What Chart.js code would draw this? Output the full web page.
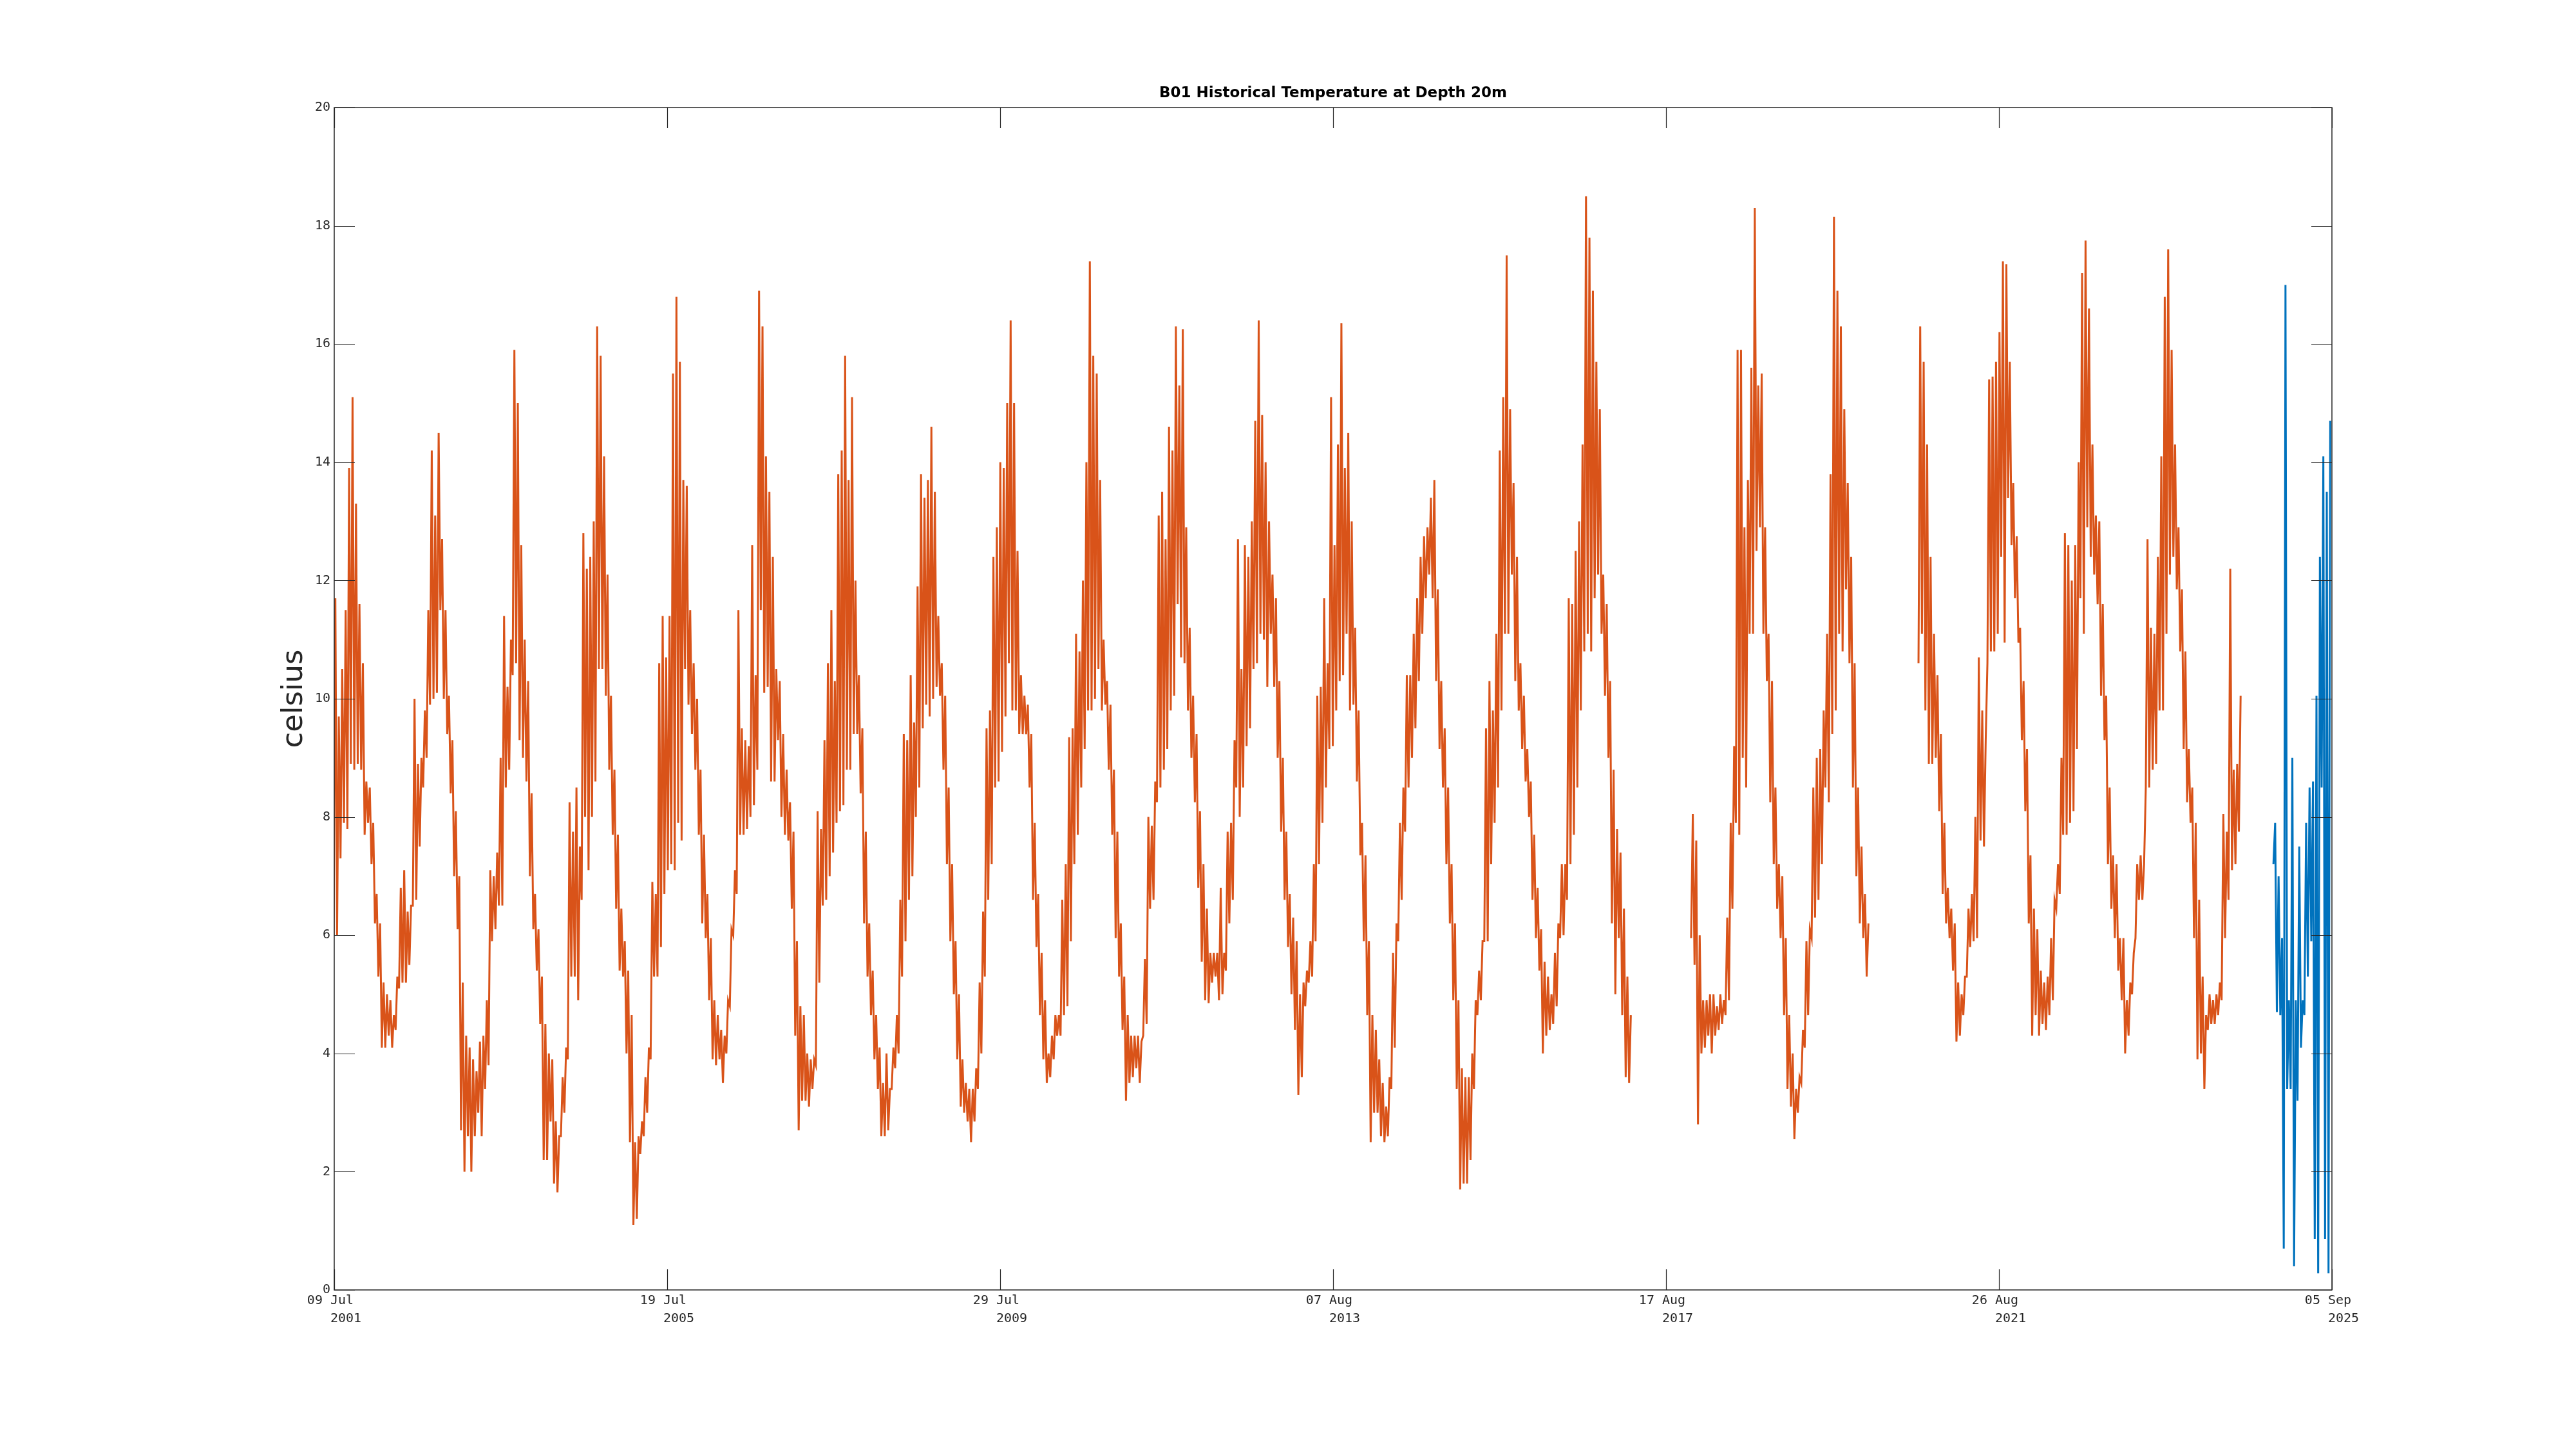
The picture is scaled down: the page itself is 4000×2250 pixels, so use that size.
<!DOCTYPE html>
<html><head><meta charset="utf-8">
<script src="https://cdn.jsdelivr.net/npm/chart.js@4.4.1/dist/chart.umd.min.js"></script>
<style>html,body{margin:0;padding:0;background:#fff}#wrap{width:4000px;height:2250px}</style>
</head><body><div id="wrap"><canvas id="c" width="4000" height="2250"></canvas></div>
<script>
// ---- axis definitions ----
const xStartUTC = Date.UTC(2001, 6, 9);   // 09 Jul 2001
const xEndDay = 8824;                       // 05 Sep 2025
const xTickDays = [0, 1470.67, 2941.33, 4412, 5882.67, 7353.33, 8824];
const xTickLabels = [
  ["09 Jul ", "   2001"], ["19 Jul ", "   2005"], ["29 Jul ", "   2009"],
  ["07 Aug ", "   2013"], ["17 Aug ", "   2017"], ["26 Aug ", "   2021"],
  ["05 Sep ", "   2025"]
];
const yMin = 0, yMax = 20, yStep = 2;

// ---- data: half-month envelope (low / high) per calendar year, celsius ----
const N = null;
const lo2001 = [N,N,N,N,N,N,N,N,N,N,N,N, 6.0,6.0,7.3,7.9,7.8,8.9,8.8,8.9,8.8,7.7,7.9,7.2];
const hi2001 = [N,N,N,N,N,N,N,N,N,N,N,N, 11.7,9.7,10.5,11.5,13.9,15.1,13.3,11.6,10.6,8.6,8.5,7.9];
const lo2002 = [6.2,5.3,4.1,4.1,4.3,4.1,4.4,5.1,5.2,5.2,5.5,6.5,6.6,7.5,8.5,9.0,9.9,10.0,10.1,11.5,10.0,9.4,8.4,7.0];
const hi2002 = [6.7,6.2,5.2,5.0,4.9,4.65,5.3,6.8,7.1,6.4,6.5,10.0,8.9,9.0,9.8,11.5,14.2,13.1,14.5,12.7,11.5,10.05,9.3,8.1];
const lo2003 = [6.1,2.7,2.0,2.6,2.0,2.6,3.0,2.6,3.4,3.8,5.9,6.1,6.5,6.5,8.5,8.8,10.4,10.6,9.3,9.0,8.6,7.0,6.1,5.4];
const hi2003 = [7.0,5.2,4.3,4.1,3.9,3.7,4.2,4.3,4.9,7.1,7.0,7.4,9.0,11.4,10.2,11.0,15.9,15.0,12.6,11.0,10.3,8.4,6.7,6.1];
const lo2004 = [4.5,2.2,2.2,2.85,1.8,1.65,2.6,3.0,3.9,5.3,5.3,4.9,6.6,8.0,7.1,8.0,8.6,10.5,10.5,10.05,8.8,7.7,6.45,5.4];
const hi2004 = [5.3,4.5,4.0,3.9,2.85,2.6,3.6,4.1,8.25,7.75,8.5,7.5,12.8,12.2,12.4,13.0,16.3,15.8,14.1,12.1,10.05,8.8,7.7,6.45];
const lo2005 = [5.3,4.0,2.5,1.1,1.2,2.3,2.6,3.0,3.9,5.3,5.3,5.8,6.7,7.1,7.2,7.1,7.9,7.6,10.5,9.9,9.4,8.8,7.7,6.2];
const hi2005 = [5.9,5.4,4.65,2.5,2.6,2.85,3.6,4.1,6.9,6.7,10.6,11.4,10.7,11.4,15.5,16.8,15.7,13.7,13.6,11.5,10.6,10.0,8.8,7.7];
const lo2006 = [5.95,4.9,3.9,3.8,3.9,3.5,4.0,4.8,6.0,6.7,7.7,7.7,7.8,8.0,8.2,8.8,11.5,10.1,10.2,8.6,8.6,9.3,8.0,7.7];
const hi2006 = [6.7,5.95,4.9,4.65,4.4,4.3,4.9,6.1,7.1,11.5,9.5,9.3,9.2,12.6,10.4,16.9,16.3,14.1,13.5,12.4,10.5,10.3,9.4,8.8];
const lo2007 = [7.6,6.45,4.3,2.7,3.2,3.2,3.1,3.4,3.8,5.2,6.5,6.6,7.0,7.4,7.9,8.1,8.2,8.8,8.8,9.4,9.4,8.4,6.2,5.3];
const hi2007 = [8.25,7.75,5.9,4.8,4.65,4.0,3.9,3.9,8.1,7.8,9.3,10.6,11.5,10.3,13.8,14.2,15.8,13.7,15.1,12.0,10.4,9.5,7.75,6.2];
const lo2008 = [4.65,3.9,3.4,2.6,2.6,2.7,3.4,3.75,4.0,5.3,5.9,6.6,7.0,8.0,8.5,9.5,9.9,9.7,10.0,10.2,10.05,8.8,7.2,5.9];
const hi2008 = [5.4,4.65,4.1,3.5,4.0,3.4,4.1,4.65,6.6,9.4,9.3,10.4,9.6,11.9,13.8,13.4,13.7,14.6,13.5,11.4,10.6,10.05,8.5,7.2];
const lo2009 = [5.0,3.9,3.1,3.0,2.85,2.5,2.85,3.4,4.0,5.3,6.6,7.2,8.5,8.6,9.1,9.7,10.6,9.8,9.8,9.4,9.4,9.4,8.5,6.6];
const hi2009 = [5.9,5.0,3.9,3.5,3.4,3.4,3.75,5.2,6.4,9.5,9.8,12.4,12.9,14.0,13.9,15.0,16.4,15.0,12.5,10.4,10.05,9.9,9.4,7.9];
const lo2010 = [5.8,4.65,3.9,3.5,3.6,3.9,4.3,4.3,4.65,4.8,5.9,7.2,7.7,8.5,9.15,9.8,9.8,10.0,10.5,9.8,9.9,8.8,7.7,5.95];
const hi2010 = [6.7,5.7,4.9,4.0,4.3,4.65,4.65,6.6,7.2,9.35,9.5,11.1,10.8,12.0,14.0,17.4,15.8,15.5,13.7,11.0,10.3,9.9,8.8,7.75];
const lo2011 = [5.3,4.4,3.2,3.5,3.6,3.75,3.5,4.3,4.5,6.45,6.6,8.25,8.5,8.8,9.15,9.8,10.05,11.6,10.7,10.6,9.8,9.0,8.25,6.8];
const hi2011 = [6.2,5.3,4.65,4.3,4.3,4.3,4.2,5.6,8.0,7.85,8.6,13.1,13.5,12.7,14.6,14.2,16.3,15.3,16.25,12.9,11.2,10.05,9.4,8.1];
const lo2012 = [5.55,4.9,4.85,5.2,5.3,4.9,5.0,5.4,6.2,6.6,8.5,8.0,8.5,9.2,9.5,10.5,10.6,11.1,11.0,10.2,11.1,10.2,9.0,7.75];
const hi2012 = [7.2,6.45,5.7,5.7,5.7,6.8,5.7,7.75,7.9,9.3,12.7,10.5,12.6,12.4,13.0,14.7,16.4,14.8,14.0,13.0,12.1,11.7,10.3,9.0];
const lo2013 = [6.6,5.8,5.0,4.4,3.3,3.6,4.8,5.2,5.3,5.9,7.2,7.9,8.5,9.15,9.2,9.8,10.3,10.4,11.1,9.8,9.9,8.6,7.35,5.9];
const hi2013 = [7.75,6.7,6.3,5.9,5.0,5.2,5.4,5.9,7.2,10.05,10.2,11.7,10.6,15.1,12.6,14.3,16.35,13.9,14.5,13.0,11.2,9.8,7.9,7.35];
const lo2014 = [4.65,2.5,3.0,3.0,2.6,2.5,2.6,3.4,4.1,5.9,6.6,7.75,8.5,9.0,9.5,10.3,11.1,11.7,12.1,11.7,10.3,9.15,8.5,7.2];
const hi2014 = [5.9,4.65,4.4,3.9,3.5,3.1,3.6,5.7,6.2,7.9,8.5,10.4,10.4,11.1,11.7,12.4,12.75,12.9,13.4,13.7,11.85,10.3,9.5,8.5];
const lo2015 = [6.2,4.9,3.4,1.7,1.8,1.8,2.2,3.4,4.65,4.9,5.9,5.9,7.2,7.9,8.5,9.8,11.1,11.1,12.1,10.3,9.8,9.15,8.6,8.0];
const hi2015 = [7.2,6.2,4.9,3.75,3.6,3.6,4.0,4.9,5.4,5.9,9.5,10.3,9.8,11.1,14.2,15.1,17.5,14.9,13.65,12.4,10.6,10.05,9.15,8.6];
const lo2016 = [6.6,5.95,5.4,4.0,4.3,4.4,4.5,4.8,5.95,6.0,6.6,7.2,7.7,8.5,9.8,10.8,11.1,10.8,11.7,12.1,11.1,10.05,9.0,6.2];
const hi2016 = [7.7,6.8,6.1,5.55,5.3,5.0,5.7,6.2,7.2,7.2,11.7,11.6,12.5,13.0,14.3,18.5,17.8,16.9,15.7,14.9,12.1,11.6,10.3,8.8];
const lo2017 = [5.0,5.95,4.65,3.6,3.5,N,N,N,N,N,N,N,N,N,N,N,N,N,N,N,N,N,5.95,5.5];
const hi2017 = [7.8,7.4,6.45,5.3,4.65,N,N,N,N,N,N,N,N,N,N,N,N,N,N,N,N,N,8.05,7.6];
const lo2018 = [2.8,4.0,4.1,4.3,4.0,4.3,4.4,4.5,4.65,4.9,6.45,7.9,7.7,9.0,8.5,11.1,11.1,12.5,12.9,11.1,10.3,8.25,7.2,6.45];
const hi2018 = [6.0,4.9,4.9,5.0,5.0,4.8,5.0,4.9,6.3,7.9,9.2,15.9,15.9,12.9,13.7,15.6,18.3,15.3,15.5,12.9,11.1,10.3,8.5,7.2];
const lo2019 = [5.95,4.65,3.4,3.1,2.55,3.0,3.5,4.1,4.65,5.95,6.3,6.6,7.2,8.5,8.25,9.4,9.8,11.1,10.8,11.85,10.6,8.5,7.0,6.2];
const hi2019 = [7.0,5.95,4.65,4.0,3.4,3.6,4.4,5.9,6.1,8.5,9.0,9.15,9.8,11.1,13.8,18.15,16.9,16.3,14.9,13.65,12.4,10.6,8.5,7.5];
const lo2020 = [5.95,5.3,N,N,N,N,N,N,N,N,N,N,N,N,N,N,10.6,11.1,9.8,8.9,8.9,9.0,8.1,6.7];
const hi2020 = [6.7,6.2,N,N,N,N,N,N,N,N,N,N,N,N,N,N,16.3,15.7,14.3,12.4,11.1,10.4,9.4,7.9];
const lo2021 = [6.2,5.95,5.4,4.2,4.3,4.65,5.3,5.8,5.9,5.95,7.6,7.5,10.6,10.8,10.8,11.1,12.4,10.95,13.4,12.6,11.7,10.95,9.3,8.1];
const hi2021 = [6.8,6.45,6.2,5.2,5.0,5.3,6.45,6.7,8.0,10.7,9.8,9.3,15.4,15.45,15.7,16.2,17.4,17.35,15.7,13.65,12.75,11.2,10.3,9.15];
const lo2022 = [6.2,4.3,4.65,4.3,4.5,4.4,4.65,4.9,6.45,6.7,7.7,7.7,7.9,8.1,9.15,11.7,11.1,12.9,12.4,12.1,11.6,10.05,9.3,7.2];
const hi2022 = [7.35,6.45,6.1,5.4,5.2,5.3,5.95,6.6,7.2,9.0,12.8,12.6,12.0,12.6,14.0,17.2,17.75,16.6,14.3,13.1,13.0,11.6,10.05,8.5];
const lo2023 = [6.45,5.95,5.4,4.9,4.0,4.3,5.0,5.95,6.6,6.6,8.5,8.5,8.8,8.9,9.8,9.8,11.1,12.1,12.4,11.85,10.8,9.15,8.25,7.9];
const hi2023 = [7.35,7.2,5.95,5.95,4.9,5.2,5.7,7.2,7.35,7.2,12.7,11.2,11.1,12.4,14.1,16.8,17.6,15.9,14.3,12.9,11.85,10.8,9.15,8.5];
const lo2024 = [5.95,3.9,4.0,3.4,4.4,4.5,4.5,4.65,4.9,5.95,6.6,7.1,7.2,7.75,N,N,N,N,N,N,N,N,N,N];
const hi2024 = [7.9,6.6,5.3,4.65,5.0,4.9,5.0,5.2,8.05,7.75,12.2,8.8,8.9,10.05,N,N,N,N,N,N,N,N,N,N];

// blue (recent deployment)
const blueLo2024 = [N,N,N,N,N,N,N,N,N,N,N,N,N,N,N,N,N,N,N,N,N,N,N,7.2];
const blueHi2024 = [N,N,N,N,N,N,N,N,N,N,N,N,N,N,N,N,N,N,N,N,N,N,N,7.9];
const blueLo2025 = [4.7,4.65,0.7,3.4,3.4,0.4,3.2,4.1,4.65,5.3,5.9,0.86,0.28,8.5,0.86,0.28];
const blueHi2025 = [7.0,5.95,17.0,4.9,9.0,4.9,7.5,4.9,7.9,8.5,8.6,10.05,12.4,14.1,13.5,14.7];

const orangeYears = [2001,2002,2003,2004,2005,2006,2007,2008,2009,2010,2011,2012,2013,2014,2015,2016,2017,2018,2019,2020,2021,2022,2023,2024];
const orangeLo = [lo2001,lo2002,lo2003,lo2004,lo2005,lo2006,lo2007,lo2008,lo2009,lo2010,lo2011,lo2012,lo2013,lo2014,lo2015,lo2016,lo2017,lo2018,lo2019,lo2020,lo2021,lo2022,lo2023,lo2024];
const orangeHi = [hi2001,hi2002,hi2003,hi2004,hi2005,hi2006,hi2007,hi2008,hi2009,hi2010,hi2011,hi2012,hi2013,hi2014,hi2015,hi2016,hi2017,hi2018,hi2019,hi2020,hi2021,hi2022,hi2023,hi2024];
const blueYears = [2024, 2025];
const blueLo = [blueLo2024, blueLo2025];
const blueHi = [blueHi2024, blueHi2025];

function dayOf(year, frac) {
  const a = Date.UTC(year, 0, 1), b = Date.UTC(year + 1, 0, 1);
  return (a + frac * (b - a) - xStartUTC) / 86400000;
}
function buildPoints(years, los, his) {
  const pts = [];
  years.forEach((Y, j) => {
    for (let k = 0; k < 24; k++) {
      const l = los[j][k], h = his[j][k];
      pts.push({x: dayOf(Y, (k + 0.25) / 24), y: (l === undefined ? null : l)});
      pts.push({x: dayOf(Y, (k + 0.75) / 24), y: (h === undefined ? null : h)});
    }
  });
  return pts;
}

const boxPlugin = {
  id: 'matlabBox',
  afterDraw(chart) {
    const {ctx, chartArea: a, scales: {x, y}} = chart;
    const L = 32;
    ctx.save();
    ctx.strokeStyle = '#262626';
    ctx.lineWidth = 1.5;
    ctx.strokeRect(a.left, a.top, a.right - a.left, a.bottom - a.top);
    ctx.beginPath();
    x.ticks.forEach(t => {
      const px = Math.round(x.getPixelForValue(t.value)) + 0.5;
      ctx.moveTo(px, a.bottom); ctx.lineTo(px, a.bottom - L);
      ctx.moveTo(px, a.top); ctx.lineTo(px, a.top + L);
    });
    y.ticks.forEach(t => {
      const py = Math.round(y.getPixelForValue(t.value)) + 0.5;
      ctx.moveTo(a.left, py); ctx.lineTo(a.left + L, py);
      ctx.moveTo(a.right, py); ctx.lineTo(a.right - L, py);
    });
    ctx.lineWidth = 1.2;
    ctx.stroke();
    ctx.restore();
  }
};

Chart.defaults.font.family = 'DejaVu Sans';
const tickFont = {family: 'DejaVu Sans Mono', size: 20, lineHeight: 1.4};

new Chart(document.getElementById('c'), {
  type: 'line',
  data: {
    datasets: [
      {data: buildPoints(orangeYears, orangeLo, orangeHi), borderColor: '#D95319', borderWidth: 3,
       pointRadius: 0, tension: 0, spanGaps: false, fill: false, borderJoinStyle: 'miter'},
      {data: buildPoints(blueYears, blueLo, blueHi), borderColor: '#0072BD', borderWidth: 3,
       pointRadius: 0, tension: 0, spanGaps: false, fill: false, borderJoinStyle: 'miter'}
    ]
  },
  options: {
    responsive: false, animation: false, devicePixelRatio: 1,
    layout: {padding: {left: 0, right: 379, top: 0, bottom: 147}},
    plugins: {
      legend: {display: false}, tooltip: {enabled: false},
      title: {display: true, fullSize: false, text: 'B01 Historical Temperature at Depth 20m',
        color: '#000', font: {family: 'DejaVu Sans', size: 23, weight: 'bold', lineHeight: 1.2},
        padding: {top: 131, bottom: 8.4}}
    },
    scales: {
      x: {
        type: 'linear', min: 0, max: xEndDay,
        afterBuildTicks: s => { s.ticks = xTickDays.map(v => ({value: v})); },
        afterFit: s => { s.height = 100; },
        grid: {display: false, drawTicks: false}, border: {display: false},
        ticks: {autoSkip: false, maxRotation: 0, minRotation: 0, padding: 3, color: '#262626', font: tickFont,
          callback: (v, i) => xTickLabels[i]}
      },
      y: {
        type: 'linear', min: yMin, max: yMax,
        afterFit: s => { s.width = 519; },
        grid: {display: false, drawTicks: false}, border: {display: false},
        ticks: {stepSize: yStep, padding: 6, color: '#262626', font: tickFont},
        title: {display: true, text: 'celsius', color: '#262626',
          font: {family: 'DejaVu Sans', size: 45, lineHeight: 1.2}, padding: {top: 430, bottom: 0}}
      }
    }
  },
  plugins: [boxPlugin]
});
</script></body></html>
